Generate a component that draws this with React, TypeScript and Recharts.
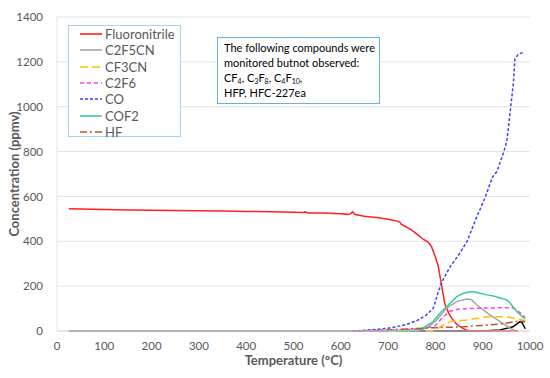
import React from "react";
import { LineChart, Line, XAxis, YAxis, CartesianGrid, Label } from "recharts";

type P = { t: number; v: number };

const fluoronitrile: P[] = [
  { t: 25, v: 545 }, { t: 50, v: 544 }, { t: 100, v: 542 }, { t: 150, v: 540 }, { t: 200, v: 538 },
  { t: 250, v: 537 }, { t: 300, v: 536 }, { t: 350, v: 535 }, { t: 400, v: 533 }, { t: 450, v: 532 },
  { t: 500, v: 530 }, { t: 520, v: 528 }, { t: 525, v: 531 }, { t: 530, v: 526 }, { t: 560, v: 526 },
  { t: 600, v: 523 }, { t: 615, v: 520 }, { t: 620, v: 522 }, { t: 625, v: 531 }, { t: 630, v: 519 },
  { t: 650, v: 512 }, { t: 680, v: 505 }, { t: 700, v: 498 }, { t: 720, v: 490 }, { t: 725, v: 485 },
  { t: 728, v: 475 }, { t: 735, v: 468 }, { t: 750, v: 450 }, { t: 765, v: 425 }, { t: 775, v: 408 },
  { t: 785, v: 395 }, { t: 792, v: 375 }, { t: 800, v: 330 }, { t: 806, v: 290 }, { t: 810, v: 240 },
  { t: 815, v: 180 }, { t: 820, v: 120 }, { t: 828, v: 80 }, { t: 835, v: 55 }, { t: 845, v: 30 },
  { t: 855, v: 15 }, { t: 865, v: 5 }, { t: 875, v: 0 }, { t: 950, v: 0 }, { t: 965, v: 2 }, { t: 975, v: 0 },
];

const c2f5cn: P[] = [
  { t: 25, v: 0 }, { t: 620, v: 0 }, { t: 700, v: 0 }, { t: 760, v: 2 }, { t: 782, v: 13 },
  { t: 803, v: 49 }, { t: 824, v: 103 }, { t: 845, v: 131 }, { t: 866, v: 143 }, { t: 876, v: 140 },
  { t: 888, v: 116 }, { t: 915, v: 72 }, { t: 937, v: 42 }, { t: 958, v: 13 }, { t: 965, v: 5 },
];

const cf3cn: P[] = [
  { t: 780, v: 0 }, { t: 800, v: 3 }, { t: 810, v: 18 }, { t: 831, v: 42 }, { t: 866, v: 49 },
  { t: 909, v: 63 }, { t: 951, v: 63 }, { t: 985, v: 49 }, { t: 990, v: 45 },
];

const c2f6: P[] = [
  { t: 650, v: 0 }, { t: 700, v: 3 }, { t: 750, v: 8 }, { t: 780, v: 12 }, { t: 800, v: 25 },
  { t: 815, v: 60 }, { t: 830, v: 88 }, { t: 850, v: 98 }, { t: 900, v: 102 }, { t: 950, v: 104 },
  { t: 965, v: 103 }, { t: 980, v: 80 }, { t: 990, v: 60 },
];

const co: P[] = [
  { t: 625, v: 0 }, { t: 650, v: 3 }, { t: 680, v: 8 }, { t: 700, v: 12 }, { t: 720, v: 20 },
  { t: 740, v: 30 }, { t: 760, v: 45 }, { t: 780, v: 70 }, { t: 795, v: 100 }, { t: 800, v: 130 },
  { t: 806, v: 175 }, { t: 816, v: 228 }, { t: 831, v: 286 }, { t: 852, v: 348 }, { t: 867, v: 400 },
  { t: 885, v: 496 }, { t: 906, v: 600 }, { t: 920, v: 684 }, { t: 930, v: 711 }, { t: 944, v: 795 },
  { t: 951, v: 846 }, { t: 958, v: 975 }, { t: 965, v: 1109 }, { t: 968, v: 1212 }, { t: 975, v: 1234 },
  { t: 987, v: 1243 },
];

const cof2: P[] = [
  { t: 700, v: 0 }, { t: 746, v: 2 }, { t: 770, v: 8 }, { t: 795, v: 42 }, { t: 810, v: 80 },
  { t: 824, v: 109 }, { t: 845, v: 153 }, { t: 860, v: 168 }, { t: 877, v: 176 }, { t: 895, v: 168 },
  { t: 909, v: 161 }, { t: 925, v: 155 }, { t: 937, v: 147 }, { t: 950, v: 140 }, { t: 958, v: 125 },
  { t: 972, v: 86 }, { t: 985, v: 62 }, { t: 990, v: 55 },
];

const hf: P[] = [
  { t: 632, v: 0 }, { t: 700, v: 5 }, { t: 750, v: 10 }, { t: 800, v: 15 }, { t: 852, v: 18 },
  { t: 900, v: 25 }, { t: 937, v: 31 }, { t: 979, v: 45 }, { t: 990, v: 40 },
];

const other: P[] = [
  { t: 25, v: 0 }, { t: 900, v: 0 }, { t: 937, v: 5 }, { t: 964, v: 19 }, { t: 979, v: 42 },
  { t: 983, v: 38 }, { t: 990, v: 10 },
];

const xTicks = [0, 100, 200, 300, 400, 500, 600, 700, 800, 900, 1000];
const yTicks = [0, 200, 400, 600, 800, 1000, 1200, 1400];

const series = [
  { name: "Fluoronitrile", data: fluoronitrile, color: "#ff2020", dash: undefined as string | undefined },
  { name: "C2F5CN", data: c2f5cn, color: "#a5a5a5", dash: undefined },
  { name: "CF3CN", data: cf3cn, color: "#ffc000", dash: "8 4" },
  { name: "C2F6", data: c2f6, color: "#ff40e0", dash: "4 3" },
  { name: "CO", data: co, color: "#4040ff", dash: "3 2" },
  { name: "COF2", data: cof2, color: "#3ccc8f", dash: undefined },
  { name: "HF", data: hf, color: "#b35a2a", dash: "7 3 2 3" },
];

const FONT = "Lato, 'Open Sans', sans-serif";

const LegendBox = () => (
  <div
    style={{
      position: "absolute",
      left: 68,
      top: 25,
      width: 113,
      height: 112,
      border: "1px solid #a9d3ee",
      background: "#fff",
      boxSizing: "border-box",
      paddingTop: 0,
      fontFamily: FONT,
    }}
  >
    {series.map((s) => (
      <div key={s.name} style={{ height: 16.3, display: "flex", alignItems: "center" }}>
        <svg width={36} height={10} style={{ flex: "none" }}>
          <line x1={11} x2={33} y1={5} y2={5} stroke={s.color} strokeWidth={1.6} strokeDasharray={s.dash} />
        </svg>
        <span style={{ fontSize: 13, color: "#595959", lineHeight: "16px" }}>{s.name}</span>
      </div>
    ))}
  </div>
);

const sub: React.CSSProperties = { fontSize: 7, position: "relative", top: 2, lineHeight: 0 };

export default function App() {
  return (
    <div style={{ position: "fixed", left: 0, top: 0, width: 550, height: 378, background: "#fff" }}>
      <LineChart width={550} height={378} margin={{ top: 17, right: 20, bottom: 0, left: 0 }}>
        <CartesianGrid vertical={false} stroke="#e3e3e3" />
        <XAxis
          type="number"
          dataKey="t"
          domain={[0, 1000]}
          ticks={xTicks}
          tickLine={false}
          axisLine={{ stroke: "#d9d9d9" }}
          tick={{ fill: "#595959", fontSize: 11.5, fontFamily: FONT }}
          tickMargin={5}
          height={47}
        >
          <Label
            value="Temperature (°C)"
            position="insideBottom"
            offset={13}
            style={{ fill: "#595959", fontSize: 13, fontWeight: 700, fontFamily: FONT }}
          />
        </XAxis>
        <YAxis
          type="number"
          domain={[0, 1400]}
          ticks={yTicks}
          tickLine={false}
          axisLine={{ stroke: "#e3e3e3" }}
          width={57}
          tick={{ fill: "#595959", fontSize: 11.5, fontFamily: FONT }}
          tickMargin={8}
        >
          <Label
            value="Concentration (ppmv)"
            angle={-90}
            position="insideLeft"
            offset={14}
            style={{ textAnchor: "middle", fill: "#595959", fontSize: 13, fontWeight: 700, fontFamily: FONT }}
          />
        </YAxis>
        <Line
          data={other}
          dataKey="v"
          name="other"
          stroke="#000000"
          strokeWidth={1.5}
          dot={false}
          legendType="none"
          isAnimationActive={false}
        />
        {series.map((s) => (
          <Line
            key={s.name}
            data={s.data}
            dataKey="v"
            name={s.name}
            stroke={s.color}
            strokeWidth={1.5}
            strokeDasharray={s.dash}
            dot={false}
            isAnimationActive={false}
          />
        ))}
      </LineChart>
      <LegendBox />
      <div
        style={{
          position: "absolute",
          left: 217,
          top: 37,
          width: 163,
          height: 67,
          border: "1.5px solid #5fb3e6",
          boxSizing: "border-box",
          background: "#fff",
          padding: "2px 0 0 6px",
          fontFamily: FONT,
          fontSize: 11,
          lineHeight: "15px",
          color: "#000",
        }}
      >
        <div>The following compounds were</div>
        <div>monitored butnot observed:</div>
        <div>
          CF<span style={sub}>4</span>, C<span style={sub}>3</span>F<span style={sub}>8</span>, C
          <span style={sub}>4</span>F<span style={sub}>10</span>,
        </div>
        <div>HFP, HFC-227ea</div>
      </div>
    </div>
  );
}
